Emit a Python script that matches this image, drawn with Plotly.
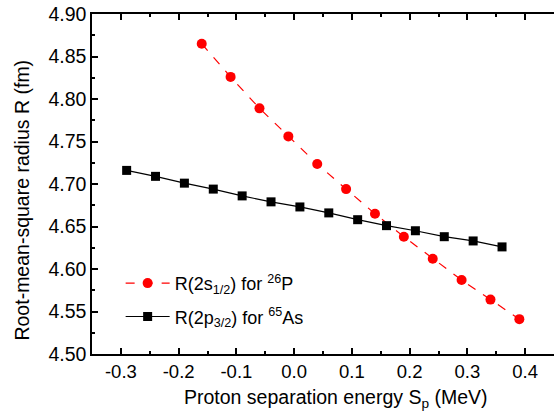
import plotly.graph_objects as go

sp_p = [-0.16, -0.11, -0.06, -0.01, 0.04, 0.09, 0.14, 0.19, 0.24, 0.29, 0.34, 0.39]
r_p = [4.865, 4.826, 4.789, 4.756, 4.7235, 4.694, 4.665, 4.638, 4.612, 4.587, 4.564, 4.541]

sp_as = [-0.29, -0.24, -0.19, -0.14, -0.09, -0.04, 0.01, 0.06, 0.11, 0.16, 0.21, 0.26, 0.31, 0.36]
r_as = [4.716, 4.709, 4.701, 4.694, 4.686, 4.679, 4.673, 4.666, 4.658, 4.651, 4.645, 4.638, 4.633, 4.626]

x_ticks = [-0.3, -0.2, -0.1, 0.0, 0.1, 0.2, 0.3, 0.4]
y_ticks = [4.50, 4.55, 4.60, 4.65, 4.70, 4.75, 4.80, 4.85, 4.90]

x_title = "Proton separation energy S<sub>p</sub> (MeV)"
y_title = "Root-mean-square radius R (fm)"

fig = go.Figure()
fig.add_trace(go.Scatter(
    x=sp_p, y=r_p, mode="lines+markers", legendgroup="a",
    name="R(2s<sub>1/2</sub>) for <sup>26</sup>P",
    line=dict(color="#ff0000", width=1.2, dash="dash"),
    marker=dict(symbol="circle", size=10, color="#ff0000"),
))
fig.add_trace(go.Scatter(
    x=sp_as, y=r_as, mode="lines+markers", legendgroup="b",
    name="R(2p<sub>3/2</sub>) for <sup>65</sup>As",
    line=dict(color="#000000", width=1.2),
    marker=dict(symbol="square", size=9, color="#000000"),
))

font = "Liberation Sans, Arial, sans-serif"
fig.update_layout(
    width=554, height=418,
    margin=dict(l=92, r=0, t=14, b=64),
    plot_bgcolor="white", paper_bgcolor="white",
    font=dict(family=font, size=18, color="black"),
    showlegend=True,
    legend=dict(x=0.062, y=0.262, xanchor="left", yanchor="top", itemwidth=44,
                bgcolor="rgba(0,0,0,0)", font=dict(size=18), tracegroupgap=7),
    xaxis=dict(
        range=[-0.35, 0.45], tickvals=x_ticks,
        ticktext=[f"{v:.1f}" for v in x_ticks],
        ticks="inside", ticklen=6, tickwidth=1.5, tickcolor="black",
        minor=dict(dtick=0.05, ticks="inside", ticklen=3, tickwidth=1.5, tickcolor="black"),
        showline=True, linecolor="black", linewidth=1.5, mirror="allticks",
        showgrid=False, zeroline=False, automargin=False,
        tickfont=dict(size=18.5), ticklabeloverflow="allow",
    ),
    yaxis=dict(
        range=[4.50, 4.90], tickvals=y_ticks,
        ticktext=[f"{v:.2f}" for v in y_ticks],
        ticks="inside", ticklen=6, tickwidth=1.5, tickcolor="black",
        minor=dict(dtick=0.025, ticks="inside", ticklen=3, tickwidth=1.5, tickcolor="black"),
        showline=True, linecolor="black", linewidth=1.5,
        showgrid=False, zeroline=False, automargin=False,
        tickfont=dict(size=19.5), ticklabeloverflow="allow",
    ),
    annotations=[
        dict(text=x_title, xref="paper", yref="paper", x=0.528, y=-0.132,
             xanchor="center", yanchor="middle", showarrow=False,
             font=dict(size=19.5)),
        dict(text=y_title, xref="paper", yref="paper", x=-0.151, y=0.452,
             xanchor="center", yanchor="middle", showarrow=False, textangle=-90,
             font=dict(size=19.5)),
    ],
)

# remove the browser's default 8px body margin so the figure fills the window
fig.write_html("out.html", config={"displayModeBar": False},
               post_script="document.body.style.margin='0';")
